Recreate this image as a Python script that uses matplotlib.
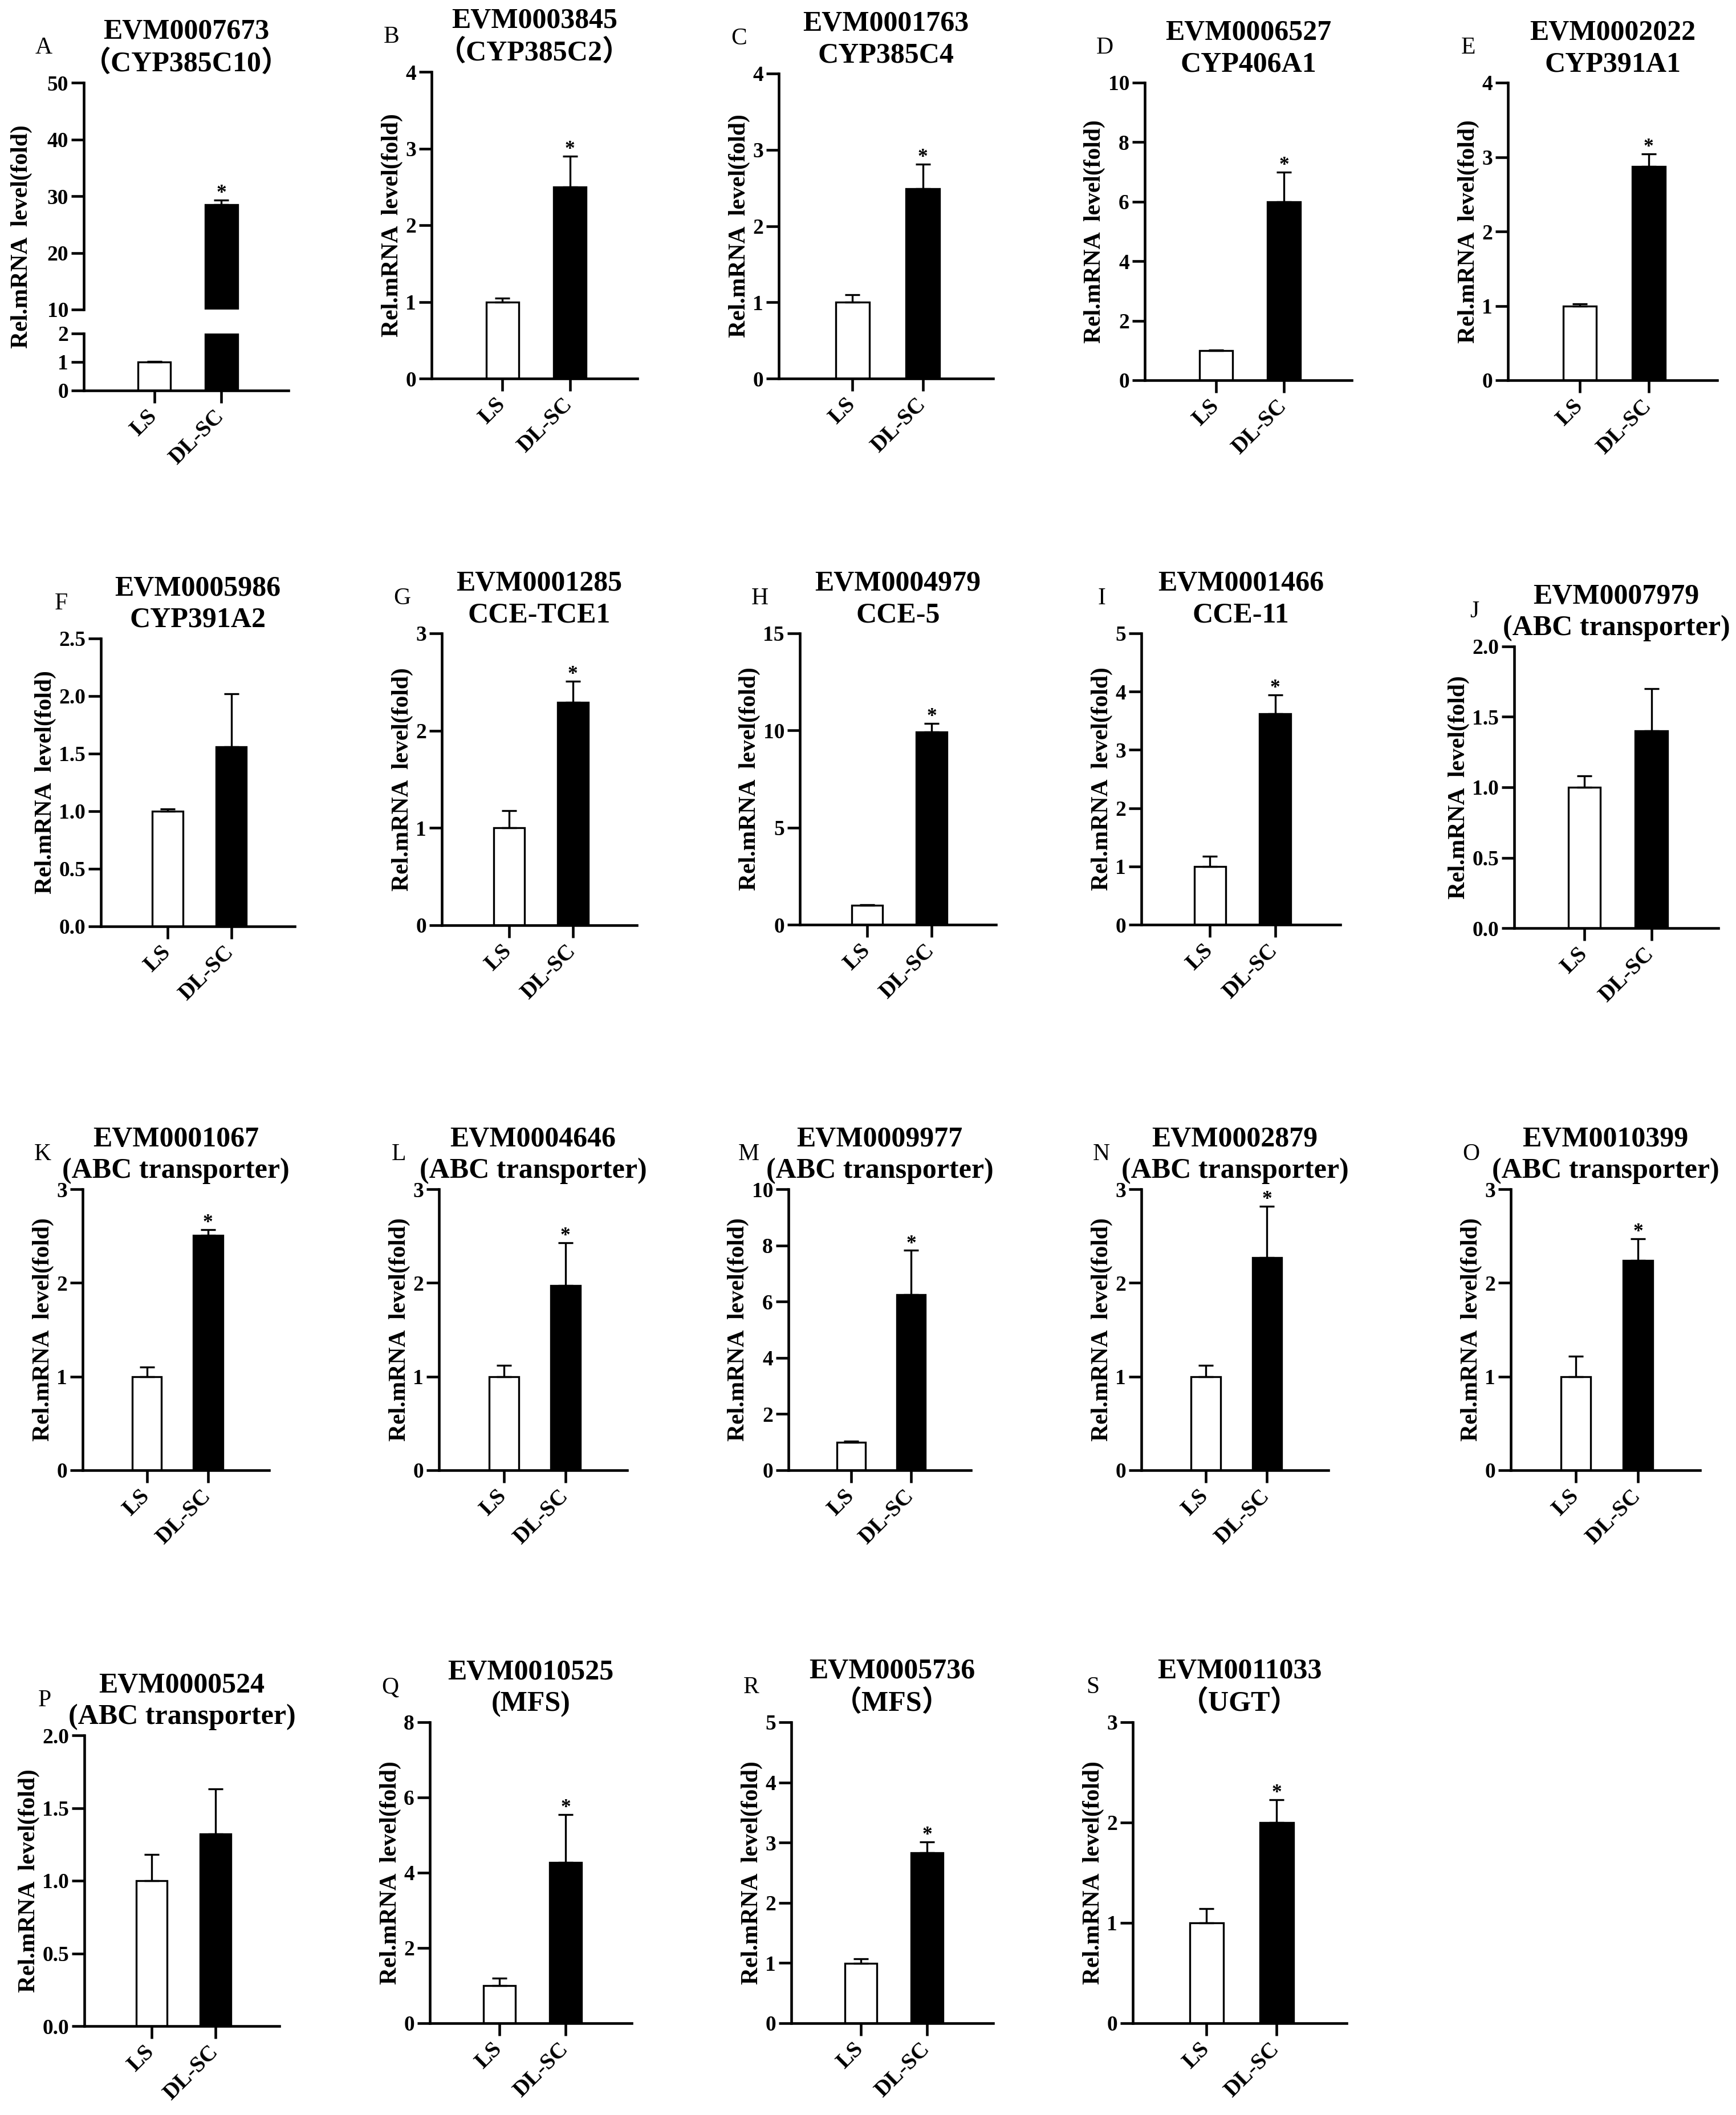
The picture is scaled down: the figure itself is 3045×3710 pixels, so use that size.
import matplotlib
matplotlib.use("Agg")
import matplotlib.pyplot as plt
import matplotlib.transforms as mtransforms
import numpy as np

# ---- data ----
panel_letters = list("ABCDEFGHIJKLMNOPQRS")
gene_ids = ["EVM0007673", "EVM0003845", "EVM0001763", "EVM0006527", "EVM0002022",
            "EVM0005986", "EVM0001285", "EVM0004979", "EVM0001466", "EVM0007979",
            "EVM0001067", "EVM0004646", "EVM0009977", "EVM0002879", "EVM0010399",
            "EVM0000524", "EVM0010525", "EVM0005736", "EVM0011033"]
gene_names = ["（CYP385C10）", "（CYP385C2）", "CYP385C4", "CYP406A1", "CYP391A1",
              "CYP391A2", "CCE-TCE1", "CCE-5", "CCE-11", "(ABC transporter)",
              "(ABC transporter)", "(ABC transporter)", "(ABC transporter)",
              "(ABC transporter)", "(ABC transporter)", "(ABC transporter)",
              "(MFS)", "（MFS）", "（UGT）"]
groups = ["LS", "DL-SC"]
ls_mean = [1.0, 1.0, 1.0, 1.0, 1.0, 1.0, 1.0, 1.0, 1.0, 1.0,
           1.0, 1.0, 1.0, 1.0, 1.0, 1.0, 1.0, 0.99, 1.0]
ls_err = [0.02, 0.05, 0.10, 0.02, 0.03, 0.02, 0.18, 0.03, 0.17, 0.08,
          0.10, 0.12, 0.04, 0.12, 0.22, 0.18, 0.19, 0.08, 0.14]
dl_mean = [28.5, 2.50, 2.49, 6.0, 2.87, 1.56, 2.29, 9.92, 3.62, 1.40,
           2.51, 1.97, 6.25, 2.27, 2.24, 1.32, 4.28, 2.83, 2.0]
dl_err = [0.8, 0.40, 0.32, 1.0, 0.17, 0.46, 0.22, 0.44, 0.32, 0.30,
          0.06, 0.46, 1.57, 0.55, 0.23, 0.31, 1.26, 0.18, 0.23]
significant = [True, True, True, True, True, False, True, True, True, False,
               True, True, True, True, True, False, True, True, True]
y_max = [50, 4, 4, 10, 4, 2.5, 3, 15, 5, 2.0, 3, 3, 10, 3, 3, 2.0, 8, 5, 3]
y_step = [10, 1, 1, 2, 1, 0.5, 1, 5, 1, 0.5, 1, 1, 2, 1, 1, 0.5, 2, 1, 1]

# panel A has a broken y axis
a_low_max, a_low_step = 2, 1
a_high_min = 10

# axes boxes in pixels: left, right, top, bottom
boxes = [(147, 506, 145, 685), (757, 1118, 126, 664), (1366, 1742, 129, 664),
         (2008, 2371, 145, 667), (2645, 3012, 145, 667),
         (177, 517, 1120, 1625), (775, 1117, 1111, 1623), (1403, 1747, 1111, 1622),
         (2002, 2351, 1111, 1622), (2656, 3014, 1134, 1628),
         (145, 472, 2086, 2579), (770, 1100, 2086, 2579), (1383, 1703, 2086, 2579),
         (2002, 2330, 2086, 2579), (2650, 2982, 2086, 2579),
         (148, 490, 3044, 3554), (754, 1108, 3021, 3549), (1388, 1742, 3021, 3549),
         (1987, 2362, 3021, 3549)]

plt.rcParams['font.family'] = ['Liberation Serif', 'Noto Sans CJK SC']

W, H, DPI = 3045, 3710, 300
fig = plt.figure(figsize=(W / DPI, H / DPI), dpi=DPI)
fig.patch.set_facecolor("white")

BAR_W = 0.48
LW = 1.1
YLABEL = "Rel.mRNA  level(fold)"


def add_ax(l, r, t, b):
    return fig.add_axes([l / W, 1 - b / H, (r - l) / W, (b - t) / H])


def style(ax, show_x=True):
    for s in ["top", "right"]:
        ax.spines[s].set_visible(False)
    ax.spines["left"].set_linewidth(LW)
    ax.spines["bottom"].set_linewidth(LW)
    ax.tick_params(axis="both", direction="out", length=5.3, width=LW, pad=1.2)
    ax.set_xlim(-1.05, 2.0)
    if show_x:
        ax.set_xticks([0, 1])
        ax.set_xticklabels(groups, rotation=45, ha="right", fontsize=9.5,
                           fontweight="bold")
        shift = mtransforms.ScaledTranslation(3 / 72, 0, fig.dpi_scale_trans)
        for lab in ax.get_xticklabels():
            lab.set_transform(lab.get_transform() + shift)
    else:
        ax.spines["bottom"].set_visible(False)
        ax.set_xticks([])


def set_yticks(ax, lo, hi, step):
    ticks = np.arange(lo, hi + step / 2, step)
    ax.set_ylim(lo, hi)
    ax.set_yticks(ticks)
    if step < 1:
        labels = ["%.1f" % t for t in ticks]
    else:
        labels = ["%d" % t for t in ticks]
    ax.set_yticklabels(labels, fontsize=9, fontweight="bold")


def draw_bars(ax, i):
    ax.bar(0, ls_mean[i], width=BAR_W, color="white", edgecolor="black",
           linewidth=0.8, zorder=2)
    ax.bar(1, dl_mean[i], width=BAR_W, color="black", edgecolor="black",
           linewidth=0.8, zorder=2)
    ax.errorbar([0, 1], [ls_mean[i], dl_mean[i]],
                yerr=[[0, 0], [ls_err[i], dl_err[i]]], fmt="none",
                ecolor="black", elinewidth=0.8, capsize=3.2, capthick=0.8,
                zorder=3)


def add_star(ax, i):
    if significant[i]:
        ax.annotate("*", xy=(1, dl_mean[i] + dl_err[i]), xytext=(0, 0.7),
                    textcoords="offset points", ha="center", va="baseline",
                    fontsize=8.5, fontweight="bold")


for i, letter in enumerate(panel_letters):
    l, r, t, b = boxes[i]
    title = gene_ids[i] + "\n" + gene_names[i]
    if i == 0:
        # broken axis: upper part 10-50, lower part 0-2
        ax_hi = add_ax(l, r, t, 543)
        ax_lo = add_ax(l, r, 585, b)
        for ax in (ax_hi, ax_lo):
            draw_bars(ax, i)
        style(ax_hi, show_x=False)
        style(ax_lo)
        set_yticks(ax_hi, a_high_min, y_max[i], y_step[i])
        set_yticks(ax_lo, 0, a_low_max, a_low_step)
        add_star(ax_hi, i)
        ax_hi.set_title(title, fontsize=12, fontweight="bold", pad=4.8,
                        linespacing=1.25)
        fig.text((l - 109) / W, 1 - (t + b) / 2 / H, YLABEL,
                 rotation=90, ha="center", va="center", fontsize=10,
                 fontweight="bold")
    else:
        ax = add_ax(l, r, t, b)
        draw_bars(ax, i)
        style(ax)
        set_yticks(ax, 0, y_max[i], y_step[i])
        add_star(ax, i)
        ax.set_title(title, fontsize=12, fontweight="bold", pad=4.8,
                     linespacing=1.25)
        ax.set_ylabel(YLABEL, fontsize=10, fontweight="bold", labelpad=1)
    fig.text((l - 70) / W, 1 - (t - 61) / H, letter, ha="center", va="center",
             fontsize=10)

fig.savefig("out.png", dpi=DPI, facecolor="white")
